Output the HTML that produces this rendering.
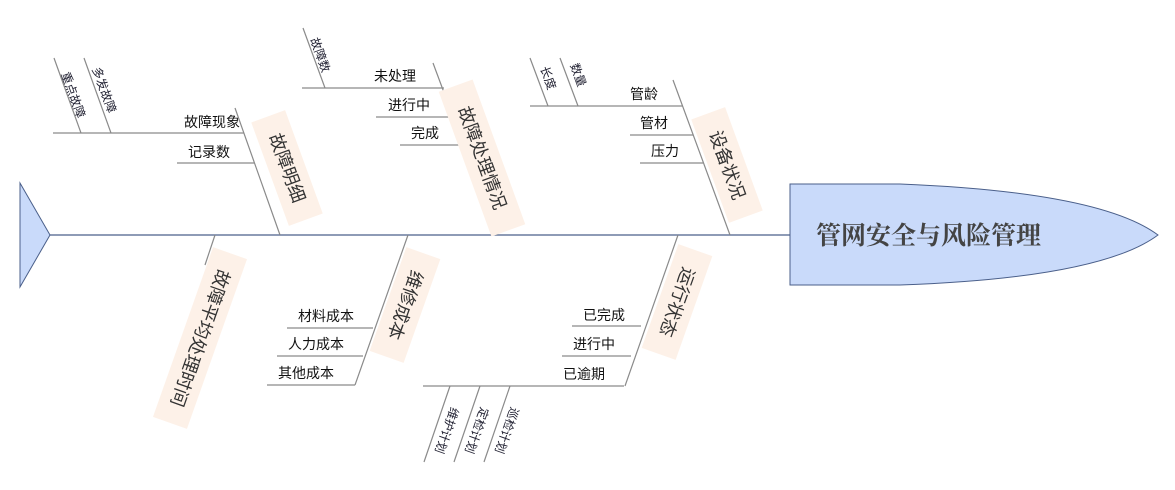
<!DOCTYPE html>
<html><head><meta charset="utf-8"><style>
html,body{margin:0;padding:0;background:#fff;}
svg{display:block;font-family:"Liberation Sans","Noto Sans CJK SC",sans-serif;}
.l{stroke:#8a8a8a;stroke-width:1.2;fill:none}
.t{font-size:14px;fill:#111}
.s{font-size:12px;fill:#223}
.b{fill:#fdf1e8}
.bt{font-size:18px;fill:#333}
</style></head><body>
<svg width="1175" height="490" viewBox="0 0 1175 490">
<line x1="50" y1="235" x2="790" y2="235" stroke="#4a5f8a" stroke-width="1.3"/>
<polygon points="20,183 50,235 20,287" fill="#c9dafa" stroke="#4a5f8a" stroke-width="1"/>
<path d="M790,184 L900,184 Q1100,192 1158,235 Q1100,278 900,285 L790,285 Z" fill="#c9dafa" stroke="#4a5f8a" stroke-width="1"/>
<text x="816" y="244" font-size="25" fill="#444" font-family="'Noto Serif CJK SC',serif" font-weight="bold">管网安全与风险管理</text>

<line class="l" x1="235" y1="108" x2="280" y2="235"/>
<line class="l" x1="53" y1="133" x2="244" y2="133"/>
<line class="l" x1="177" y1="163" x2="254" y2="163"/>
<text class="t" x="240" y="127" text-anchor="end">故障现象</text>
<text class="t" x="230" y="157" text-anchor="end">记录数</text>
<line class="l" x1="54" y1="58" x2="81" y2="133"/>
<line class="l" x1="84" y1="58" x2="111" y2="133"/>
<text class="s" transform="translate(73,95) rotate(70)" text-anchor="middle" dy="4">重点故障</text>
<text class="s" transform="translate(104,90) rotate(70)" text-anchor="middle" dy="4">多发故障</text>
<g transform="translate(287,168) rotate(70)"><rect class="b" x="-55" y="-18" width="110" height="36"/><text class="bt" text-anchor="middle" y="6">故障明细</text></g>

<line class="l" x1="433" y1="63" x2="497" y2="235"/>
<line class="l" x1="302" y1="88" x2="444" y2="88"/>
<line class="l" x1="376" y1="117" x2="455" y2="117"/>
<line class="l" x1="400" y1="145" x2="465" y2="145"/>
<text class="t" x="416" y="81" text-anchor="end">未处理</text>
<text class="t" x="430" y="110" text-anchor="end">进行中</text>
<text class="t" x="439" y="138" text-anchor="end">完成</text>
<line class="l" x1="303" y1="28" x2="325" y2="88"/>
<text class="s" transform="translate(320,55) rotate(70)" text-anchor="middle" dy="4">故障数</text>
<g transform="translate(482,158) rotate(70)"><rect class="b" x="-77" y="-18" width="154" height="36"/><text class="bt" text-anchor="middle" y="6">故障处理情况</text></g>

<line class="l" x1="673" y1="80" x2="730" y2="235"/>
<line class="l" x1="530" y1="106" x2="683" y2="106"/>
<line class="l" x1="630" y1="135" x2="693" y2="135"/>
<line class="l" x1="640" y1="163" x2="703" y2="163"/>
<text class="t" x="658" y="99" text-anchor="end">管龄</text>
<text class="t" x="668" y="128" text-anchor="end">管材</text>
<text class="t" x="679" y="156" text-anchor="end">压力</text>
<line class="l" x1="530" y1="58" x2="548" y2="106"/>
<line class="l" x1="560" y1="58" x2="578" y2="106"/>
<text class="s" transform="translate(548,78) rotate(70)" text-anchor="middle" dy="4">长度</text>
<text class="s" transform="translate(578,75) rotate(70)" text-anchor="middle" dy="4">数量</text>
<g transform="translate(727,165) rotate(70)"><rect class="b" x="-55" y="-18" width="110" height="36"/><text class="bt" text-anchor="middle" y="6">设备状况</text></g>

<line class="l" x1="215" y1="235" x2="205" y2="265"/>
<g transform="translate(200,338) rotate(109.5)"><rect class="b" x="-90" y="-18" width="180" height="36"/><text class="bt" text-anchor="middle" y="6">故障平均处理时间</text></g>

<line class="l" x1="408" y1="235" x2="355" y2="385"/>
<line class="l" x1="287" y1="328" x2="373" y2="328"/>
<line class="l" x1="277" y1="356" x2="363" y2="356"/>
<line class="l" x1="267" y1="385" x2="355" y2="385"/>
<text class="t" x="354" y="321" text-anchor="end">材料成本</text>
<text class="t" x="344" y="349" text-anchor="end">人力成本</text>
<text class="t" x="334" y="378" text-anchor="end">其他成本</text>
<g transform="translate(405,305) rotate(109.5)"><rect class="b" x="-55" y="-18" width="110" height="36"/><text class="bt" text-anchor="middle" y="6">维修成本</text></g>

<line class="l" x1="678" y1="235" x2="625" y2="386"/>
<line class="l" x1="572" y1="326" x2="641" y2="326"/>
<line class="l" x1="562" y1="356" x2="631" y2="356"/>
<line class="l" x1="423" y1="386" x2="624" y2="386"/>
<text class="t" x="625" y="320" text-anchor="end">已完成</text>
<text class="t" x="615" y="349" text-anchor="end">进行中</text>
<text class="t" x="605" y="379" text-anchor="end">已逾期</text>
<line class="l" x1="450" y1="386" x2="424" y2="462"/>
<line class="l" x1="480" y1="386" x2="454" y2="462"/>
<line class="l" x1="510" y1="386" x2="484" y2="462"/>
<text class="s" transform="translate(440,428) rotate(109.5)" text-anchor="middle" dy="-3">维护计划</text>
<text class="s" transform="translate(470,428) rotate(109.5)" text-anchor="middle" dy="-3">定检计划</text>
<text class="s" transform="translate(500,428) rotate(109.5)" text-anchor="middle" dy="-3">巡检计划</text>
<g transform="translate(677,302) rotate(109.5)"><rect class="b" x="-55" y="-18" width="110" height="36"/><text class="bt" text-anchor="middle" y="6">运行状态</text></g>
</svg>
</body></html>
